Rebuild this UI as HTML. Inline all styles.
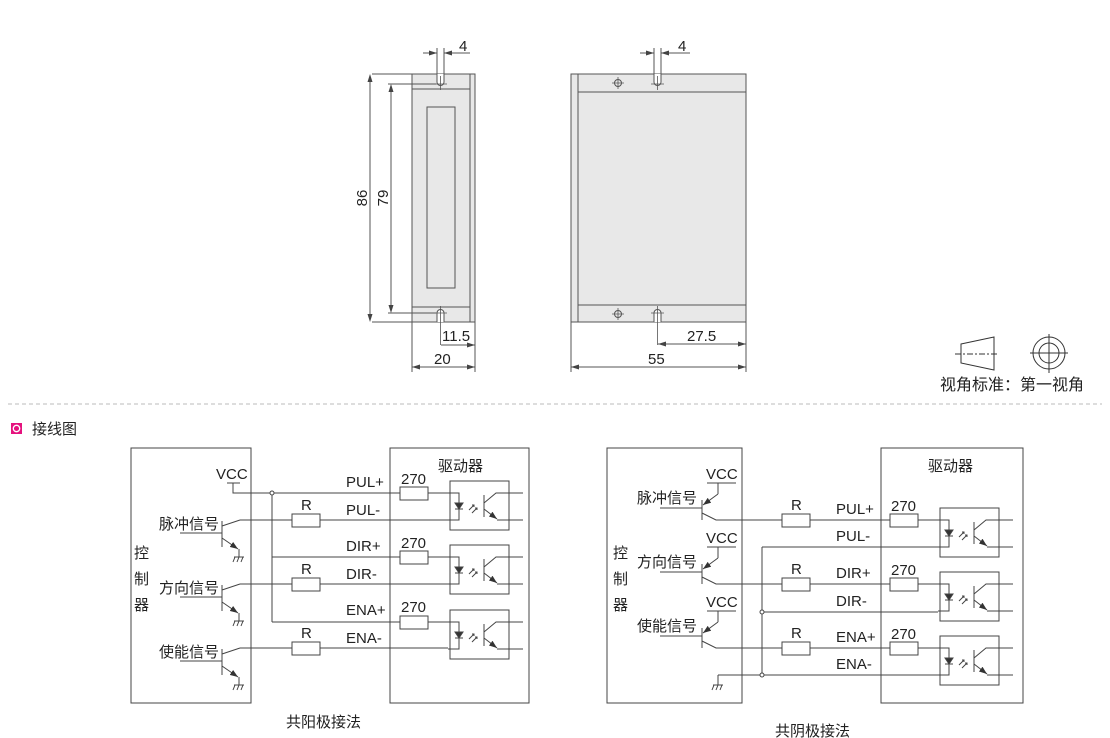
<!DOCTYPE html>
<html><head><meta charset="utf-8"><style>
html,body{margin:0;padding:0;background:#fff;}
svg{display:block;font-family:"Liberation Sans","Noto Sans CJK SC",sans-serif;}
</style></head><body>
<svg width="1110" height="738" viewBox="0 0 1110 738" xmlns="http://www.w3.org/2000/svg">
<defs>
<marker id="ar" markerWidth="8" markerHeight="6" refX="8" refY="3" orient="auto" markerUnits="userSpaceOnUse"><path d="M0,0 L8,3 L0,6z" fill="#333"/></marker>
<g id="opto" stroke="#444" fill="none" stroke-width="1">
<rect x="0" y="0" width="59" height="49"/>
<path d="M-2,12 H9 V22 M9,28 V39 H-2"/>
<path d="M5,22 H13 L9,28 Z" fill="#333"/><path d="M5,28 H13"/>
<path d="M19,29 L24,24 M22,24 h2 v2 M22,32 L27,27 M25,27 h2 v2"/>
<path d="M34,14 V36"/>
<path d="M34,22 L46,12 H73"/>
<path d="M34,28 L47,38" marker-end="url(#ar)"/><path d="M47,39 H73"/>
</g>
<g id="res"><rect x="0" y="0" width="28" height="13" fill="#fff" stroke="#444"/></g>
<g id="gnd" stroke="#444" fill="none"><path d="M-5,0 H5 M-4,0 l-2,5 M0,0 l-2,5 M4,0 l-2,5"/></g>
</defs>

<!-- ========= Dimension drawing ========= -->
<g stroke="#555" fill="none" stroke-width="1">
<rect x="412" y="74" width="63" height="248" fill="#e8e8e8"/>
<path d="M470,74 V322 M412,89 H470 M412,307 H470"/>
<rect x="427" y="107" width="28" height="181" fill="#e8e8e8"/>
<path d="M437,74 V82 A3.5,3.5 0 0 0 444,82 V74" fill="#fff"/>
<path d="M437,322 V313 A3.5,3.5 0 0 1 444,313 V322" fill="#fff"/>
<path d="M440.5,76 V90 M434,84 H447 M440.5,306 V345 M434,313 H447" stroke-width="0.8"/>
<path d="M372,74 H412 M372,322 H412"/>
<path d="M370,80 V316"/>
<path d="M370,74 l-2.5,8 h5z M370,322 l-2.5,-8 h5z" fill="#444" stroke="none"/>
<path d="M388,84 H436 M388,313 H436"/>
<path d="M391,90 V307"/>
<path d="M391,84 l-2.5,8 h5z M391,313 l-2.5,-8 h5z" fill="#444" stroke="none"/>
<path d="M437,48 V74 M444,48 V74 M423,53 H437 M444,53 H470"/>
<path d="M437,53 l-8,-2.5 v5z M444,53 l8,-2.5 v5z" fill="#444" stroke="none"/>
<path d="M412,322 V372 M475,322 V372"/>
<path d="M441,345 H475"/>
<path d="M475,345 l-8,-2.5 v5z" fill="#444" stroke="none"/>
<path d="M412,367 H475"/>
<path d="M412,367 l8,-2.5 v5z M475,367 l-8,-2.5 v5z" fill="#444" stroke="none"/>

<rect x="571" y="74" width="175" height="248" fill="#e8e8e8"/>
<path d="M578,74 V322 M578,92 H746 M578,305 H746"/>
<circle cx="618" cy="83" r="3.5"/><path d="M612,83 H624 M618,77 V89" stroke-width="0.8"/>
<circle cx="618" cy="314" r="3.5"/><path d="M612,314 H624 M618,308 V320" stroke-width="0.8"/>
<path d="M654,74 V82 A3.5,3.5 0 0 0 661,82 V74" fill="#fff"/>
<path d="M654,322 V313 A3.5,3.5 0 0 1 661,313 V322" fill="#fff"/>
<path d="M657.5,76 V90 M651,84 H664 M657.5,306 V345 M651,313 H664" stroke-width="0.8"/>
<path d="M654,48 V74 M661,48 V74 M640,53 H654 M661,53 H690"/>
<path d="M654,53 l-8,-2.5 v5z M661,53 l8,-2.5 v5z" fill="#444" stroke="none"/>
<path d="M571,322 V372 M746,322 V372"/>
<path d="M658,344 H746"/>
<path d="M658,344 l8,-2.5 v5z M746,344 l-8,-2.5 v5z" fill="#444" stroke="none"/>
<path d="M571,367 H746"/>
<path d="M571,367 l8,-2.5 v5z M746,367 l-8,-2.5 v5z" fill="#444" stroke="none"/>
</g>
<g font-size="15" fill="#222">
<text x="459" y="51">4</text>
<text x="678" y="51">4</text>
<text x="442" y="341">11.5</text>
<text x="434" y="364">20</text>
<text x="687" y="341">27.5</text>
<text x="648" y="364">55</text>
<text transform="translate(367,198) rotate(-90)" text-anchor="middle">86</text>
<text transform="translate(388,198) rotate(-90)" text-anchor="middle">79</text>
</g>

<g stroke="#333" fill="none" stroke-width="1">
<path d="M961,344 L994,337 V370 L961,363 Z"/>
<path d="M955,354 H999" stroke-dasharray="6,2,2,2"/>
<circle cx="1049" cy="353" r="16"/><circle cx="1049" cy="353" r="10"/>
<path d="M1030,353 H1068 M1049,334 V373"/>
</g>
<text x="940" y="390" font-size="16" fill="#222">视角标准：第一视角</text>

<path d="M8,404 H1102" stroke="#bbb" stroke-dasharray="4,3"/>
<rect x="11" y="423" width="11" height="11" fill="#e5127e"/>
<circle cx="16.5" cy="428.5" r="3.2" fill="none" stroke="#fff" stroke-width="1.3"/>
<text x="32" y="434" font-size="15" fill="#222">接线图</text>

<!-- ========= Left circuit ========= -->
<g stroke="#444" fill="none" stroke-width="1">
<rect x="131" y="448" width="120" height="255"/>
<rect x="390" y="448" width="139" height="255"/>
<path d="M227,483 H240 M233,483 V493 H448"/>
<path d="M272,493 V622 M272,557 H448 M272,622 H448"/>
<path d="M240,520 H448 M240,584 H448 M240,648 H448"/>
</g>
<circle cx="272" cy="493" r="2" fill="#fff" stroke="#444"/>
<use href="#res" x="400" y="487"/><use href="#res" x="400" y="551"/><use href="#res" x="400" y="616"/>
<use href="#res" x="292" y="514"/><use href="#res" x="292" y="578"/><use href="#res" x="292" y="642"/>
<use href="#opto" x="450" y="481"/><use href="#opto" x="450" y="545"/><use href="#opto" x="450" y="610"/>
<g id="npn" stroke="#444" fill="none">
<path d="M180,533 H222 M222,521 V547 M222,526 L240,520"/>
<path d="M222,538 L238,549" marker-end="url(#ar)"/><path d="M239,549 V557"/>
</g>
<use href="#gnd" x="239" y="557"/>
<use href="#npn" x="0" y="64"/><use href="#gnd" x="239" y="621"/>
<use href="#npn" x="0" y="128"/><use href="#gnd" x="239" y="685"/>
<g font-size="15" fill="#222">
<text x="216" y="479">VCC</text>
<text x="159" y="529">脉冲信号</text>
<text x="159" y="593">方向信号</text>
<text x="159" y="657">使能信号</text>
<text x="134" y="558">控</text><text x="134" y="584">制</text><text x="134" y="610">器</text>
<text x="438" y="471">驱动器</text>
<text x="346" y="487">PUL+</text><text x="346" y="515">PUL-</text>
<text x="346" y="551">DIR+</text><text x="346" y="579">DIR-</text>
<text x="346" y="615">ENA+</text><text x="346" y="643">ENA-</text>
<text x="401" y="484">270</text><text x="401" y="548">270</text><text x="401" y="612">270</text>
<text x="301" y="510">R</text><text x="301" y="574">R</text><text x="301" y="638">R</text>
<text x="286" y="727">共阳极接法</text>
</g>

<!-- ========= Right circuit ========= -->
<g stroke="#444" fill="none" stroke-width="1">
<rect x="607" y="448" width="135" height="255"/>
<rect x="881" y="448" width="142" height="255"/>
<path d="M718,520 H938 M718,584 H938 M718,648 H938"/>
<path d="M762,547 H938 M762,612 H938 M762,675 H938 M762,547 V675 M718,675 H762 M718,675 V685"/>
</g>
<circle cx="762" cy="612" r="2" fill="#fff" stroke="#444"/>
<circle cx="762" cy="675" r="2" fill="#fff" stroke="#444"/>
<use href="#gnd" x="718" y="685"/>
<use href="#res" x="782" y="514"/><use href="#res" x="782" y="578"/><use href="#res" x="782" y="642"/>
<use href="#res" x="890" y="514"/><use href="#res" x="890" y="578"/><use href="#res" x="890" y="642"/>
<use href="#opto" x="940" y="508"/><use href="#opto" x="940" y="572"/><use href="#opto" x="940" y="636"/>
<g id="pnp" stroke="#444" fill="none">
<path d="M707,483 H736 M718,483 V494"/>
<path d="M718,494 L703,505" marker-end="url(#ar)"/>
<path d="M660,508 H702 M702,500 V520 M702,513 L716,520 H718"/>
</g>
<use href="#pnp" x="0" y="64"/><use href="#pnp" x="0" y="128"/>
<g font-size="15" fill="#222">
<text x="706" y="479">VCC</text><text x="706" y="543">VCC</text><text x="706" y="607">VCC</text>
<text x="637" y="503">脉冲信号</text>
<text x="637" y="567">方向信号</text>
<text x="637" y="631">使能信号</text>
<text x="613" y="558">控</text><text x="613" y="584">制</text><text x="613" y="610">器</text>
<text x="928" y="471">驱动器</text>
<text x="836" y="514">PUL+</text><text x="836" y="541">PUL-</text>
<text x="836" y="578">DIR+</text><text x="836" y="606">DIR-</text>
<text x="836" y="642">ENA+</text><text x="836" y="669">ENA-</text>
<text x="891" y="511">270</text><text x="891" y="575">270</text><text x="891" y="639">270</text>
<text x="791" y="510">R</text><text x="791" y="574">R</text><text x="791" y="638">R</text>
<text x="775" y="736">共阴极接法</text>
</g>
</svg>
</body></html>
